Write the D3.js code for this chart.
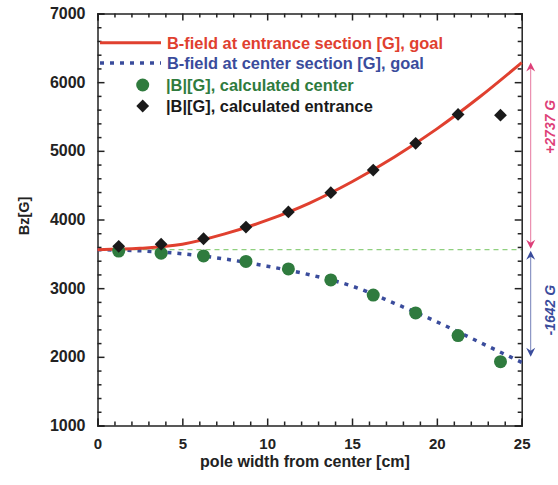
<!DOCTYPE html>
<html lang="en">
  <head>
    <meta charset="UTF-8" />
    <title>Bz vs pole width</title>
    <script src="https://d3js.org/d3.v7.min.js"></script>
    <style>
      body {
        margin: 0;
        background: #fff;
        font-family: "Liberation Sans", Arial, sans-serif;
      }
      .axis text {
        font-family: "Liberation Sans", Arial, sans-serif;
        font-weight: bold;
        font-size: 16px;
        fill: #222;
      }
      .axis path,
      .axis line {
        stroke: #222;
        stroke-width: 1.5;
      }
    </style>
  </head>
  <body>
    <svg id="chart" width="558" height="485"></svg>
    <script>
      // values
      const goalX = [0, 2.5, 5, 7.5, 10, 12.5, 15, 17.5, 20, 22.5, 25];
      const entranceGoal = [3560, 3580, 3640, 3790, 3990, 4240, 4550, 4910, 5320, 5780, 6285];
      const centerGoal = [3560, 3545, 3500, 3425, 3320, 3195, 3030, 2780, 2510, 2215, 1920];

      const calcX = [1.25, 3.75, 6.25, 8.75, 11.25, 13.75, 16.25, 18.75, 21.25, 23.75];
      const calcCenter = [3540, 3510, 3470, 3390, 3280, 3120, 2900, 2640, 2310, 1930];
      const calcEntrance = [3610, 3640, 3720, 3890, 4110, 4390, 4720, 5110, 5530, 5520];

      const baseline = 3560;
      const deltaLabels = ["+2737 G", "-1642 G"];
      const deltaRanges = [[6285, 3575], [3545, 2000]];
      const deltaLabelAt = [5350, 3560 - 880];

      const legendLabels = [
        "B-field at entrance section [G], goal",
        "B-field at center section [G], goal",
        "|B|[G], calculated center",
        "|B|[G], calculated entrance",
      ];

      const xTicks = [0, 5, 10, 15, 20, 25];
      const yTicks = [1000, 2000, 3000, 4000, 5000, 6000, 7000];

      const red = "#e0402f";
      const blue = "#3a4c9c";
      const green = "#2f7b3e";
      const pink = "#dd3f78";

      const svg = d3.select("#chart");
      const plotL = 97.5, plotR = 521.7, plotT = 13.5, plotB = 425.5;

      const x = d3.scaleLinear().domain([0, 25]).range([plotL, plotR]);
      const y = d3.scaleLinear().domain([1000, 7000]).range([plotB, plotT]);

      // green reference line
      svg.append("line")
        .attr("x1", x(0)).attr("x2", x(25))
        .attr("y1", y(baseline)).attr("y2", y(baseline))
        .attr("stroke", "#8fd07f").attr("stroke-width", 1.3)
        .attr("stroke-dasharray", "5,4");

      // axes: major + minor ticks pointing inward on all four sides
      const minorX = d3.range(0, 26, 1).filter((v) => v % 5 !== 0);
      const minorY = d3.range(1000, 7001, 200).filter((v) => v % 1000 !== 0);

      svg.append("g").attr("class", "axis")
        .attr("transform", `translate(0,${plotB})`)
        .call(d3.axisBottom(x).tickValues(xTicks).tickSize(-7).tickPadding(13).tickFormat(d3.format("d")))
        .selectAll("text").style("font-size", "15px");
      svg.append("g").attr("class", "axis")
        .attr("transform", `translate(0,${plotB})`)
        .call(d3.axisBottom(x).tickValues(minorX).tickSize(-4).tickFormat(""))
        .select(".domain").remove();
      svg.append("g").attr("class", "axis")
        .attr("transform", `translate(0,${plotT})`)
        .call(d3.axisTop(x).tickValues(xTicks).tickSize(-7).tickFormat(""));
      svg.append("g").attr("class", "axis")
        .attr("transform", `translate(0,${plotT})`)
        .call(d3.axisTop(x).tickValues(minorX).tickSize(-4).tickFormat(""))
        .select(".domain").remove();

      svg.append("g").attr("class", "axis")
        .attr("transform", `translate(${plotL},0)`)
        .call(d3.axisLeft(y).tickValues(yTicks).tickSize(-7).tickPadding(12).tickFormat(d3.format("d")));
      svg.append("g").attr("class", "axis")
        .attr("transform", `translate(${plotL},0)`)
        .call(d3.axisLeft(y).tickValues(minorY).tickSize(-4).tickFormat(""))
        .select(".domain").remove();
      svg.append("g").attr("class", "axis")
        .attr("transform", `translate(${plotR},0)`)
        .call(d3.axisRight(y).tickValues(yTicks).tickSize(-7).tickFormat(""));
      svg.append("g").attr("class", "axis")
        .attr("transform", `translate(${plotR},0)`)
        .call(d3.axisRight(y).tickValues(minorY).tickSize(-4).tickFormat(""))
        .select(".domain").remove();

      // goal curves
      const line = d3.line()
        .x((d) => x(d[0]))
        .y((d) => y(d[1]))
        .curve(d3.curveMonotoneX);

      svg.append("path")
        .datum(d3.zip(goalX, centerGoal))
        .attr("d", line)
        .attr("fill", "none")
        .attr("stroke", blue)
        .attr("stroke-width", 3.5)
        .attr("stroke-dasharray", "4,6");

      svg.append("path")
        .datum(d3.zip(goalX, entranceGoal))
        .attr("d", line)
        .attr("fill", "none")
        .attr("stroke", red)
        .attr("stroke-width", 3);

      // calculated points
      svg.append("g").selectAll("circle")
        .data(d3.zip(calcX, calcCenter))
        .join("circle")
        .attr("cx", (d) => x(d[0]))
        .attr("cy", (d) => y(d[1]))
        .attr("r", 6.5)
        .attr("fill", green);

      const diamond = d3.symbol().type(d3.symbolSquare).size(82);
      svg.append("g").selectAll("path")
        .data(d3.zip(calcX, calcEntrance))
        .join("path")
        .attr("d", diamond)
        .attr("transform", (d) => `translate(${x(d[0])},${y(d[1])}) rotate(45)`)
        .attr("fill", "#1a1a1a");

      // difference arrows on the right
      const arrowX = 530.7;
      const arrowColors = [pink, blue];
      const head = (tipY, dir) =>
        `M${arrowX},${tipY} L${arrowX - 4.5},${tipY + dir * 9} L${arrowX},${tipY + dir * 6} L${arrowX + 4.5},${tipY + dir * 9} Z`;

      deltaRanges.forEach((r, i) => {
        const y1 = y(r[0]), y2 = y(r[1]);
        const g = svg.append("g");
        g.append("line")
          .attr("x1", arrowX).attr("x2", arrowX)
          .attr("y1", y1 + 4).attr("y2", y2 - 4)
          .attr("stroke", arrowColors[i]).attr("stroke-width", 1)
          .attr("opacity", 0.7);
        g.append("path").attr("d", head(y1, 1)).attr("fill", arrowColors[i]);
        g.append("path").attr("d", head(y2, -1)).attr("fill", arrowColors[i]);
        g.append("text")
          .attr("transform", `translate(555,${y(deltaLabelAt[i])}) rotate(-90)`)
          .attr("text-anchor", "middle")
          .attr("font-size", 14)
          .attr("font-weight", "bold")
          .attr("font-style", "italic")
          .attr("fill", arrowColors[i])
          .text(deltaLabels[i]);
      });

      // legend
      const legendY = [42.7, 63, 85, 106];
      const legendColors = [red, blue, green, "#1a1a1a"];
      const legend = svg.append("g");
      legend.append("line")
        .attr("x1", 100).attr("x2", 161).attr("y1", legendY[0]).attr("y2", legendY[0])
        .attr("stroke", red).attr("stroke-width", 3);
      legend.append("line")
        .attr("x1", 100).attr("x2", 161).attr("y1", legendY[1]).attr("y2", legendY[1])
        .attr("stroke", blue).attr("stroke-width", 3.5).attr("stroke-dasharray", "4,6");
      legend.append("circle")
        .attr("cx", 142.7).attr("cy", legendY[2]).attr("r", 6.5).attr("fill", green);
      legend.append("path")
        .attr("d", diamond)
        .attr("transform", `translate(142.7,${legendY[3]}) rotate(45)`)
        .attr("fill", "#1a1a1a");
      legend.selectAll("text")
        .data(legendLabels)
        .join("text")
        .attr("x", (d, i) => (i < 2 ? 167 : 166))
        .attr("y", (d, i) => legendY[i])
        .attr("dy", "0.36em")
        .attr("font-size", 16.4)
        .attr("font-weight", "bold")
        .attr("fill", (d, i) => legendColors[i])
        .text((d) => d);

      // axis titles
      svg.append("text")
        .attr("x", 305).attr("y", 467)
        .attr("text-anchor", "middle")
        .attr("font-size", 16)
        .attr("font-weight", "bold")
        .attr("fill", "#222")
        .text("pole width from center [cm]");
      svg.append("text")
        .attr("transform", "translate(29,216) rotate(-90)")
        .attr("text-anchor", "middle")
        .attr("font-size", 14.5)
        .attr("font-weight", "bold")
        .attr("fill", "#222")
        .text("Bz[G]");
    </script>
  </body>
</html>
